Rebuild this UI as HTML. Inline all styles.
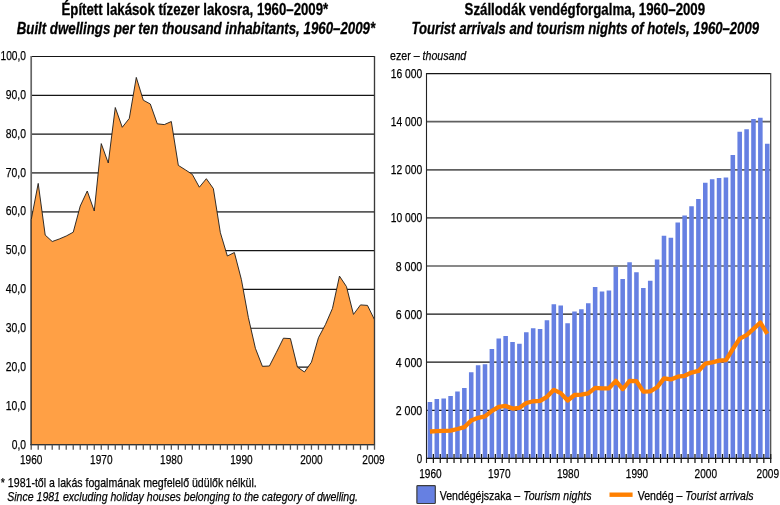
<!DOCTYPE html>
<html lang="hu"><head><meta charset="utf-8"><title>Épített lakások; Szállodák vendégforgalma, 1960–2009</title>
<style>html,body{margin:0;padding:0;background:#fff}body{width:780px;height:505px;overflow:hidden}svg{display:block}text{font-family:"Liberation Sans", sans-serif;fill:#000;stroke:#000;stroke-width:0.25px}.b{stroke-width:0.3px}.b{font-weight:bold}.i{font-style:italic}</style></head><body>
<svg width="780" height="505" viewBox="0 0 780 505">
<rect width="780" height="505" fill="#fff"/>
<line x1="31.2" x2="374.5" y1="56.50" y2="56.50" stroke="#151515" stroke-width="1.2"/>
<line x1="31.2" x2="374.5" y1="95.32" y2="95.32" stroke="#151515" stroke-width="1.2"/>
<line x1="31.2" x2="374.5" y1="134.14" y2="134.14" stroke="#151515" stroke-width="1.2"/>
<line x1="31.2" x2="374.5" y1="172.96" y2="172.96" stroke="#5a5a5a" stroke-width="1.7"/>
<line x1="31.2" x2="374.5" y1="211.78" y2="211.78" stroke="#5a5a5a" stroke-width="1.7"/>
<line x1="31.2" x2="374.5" y1="250.60" y2="250.60" stroke="#151515" stroke-width="1.2"/>
<line x1="31.2" x2="374.5" y1="289.42" y2="289.42" stroke="#151515" stroke-width="1.2"/>
<line x1="31.2" x2="374.5" y1="328.24" y2="328.24" stroke="#151515" stroke-width="1.2"/>
<line x1="31.2" x2="374.5" y1="367.06" y2="367.06" stroke="#151515" stroke-width="1.2"/>
<line x1="31.2" x2="374.5" y1="405.88" y2="405.88" stroke="#151515" stroke-width="1.2"/>
<line x1="31.2" x2="31.2" y1="55.9" y2="445.3" stroke="#666" stroke-width="1.7"/>
<polygon points="31.20,444.7 31.20,219.80 38.21,183.40 45.21,235.10 52.22,241.50 59.22,239.00 66.23,236.00 73.24,232.20 80.24,206.00 87.25,191.00 94.26,211.00 101.26,143.60 108.27,163.00 115.27,107.50 122.28,127.30 129.29,118.40 136.29,77.40 143.30,100.20 150.30,104.00 157.31,123.80 164.32,124.60 171.32,121.50 178.33,165.40 185.33,169.80 192.34,174.40 199.35,187.20 206.35,178.70 213.36,188.60 220.37,232.70 227.37,256.00 234.38,252.50 241.38,279.50 248.39,317.60 255.40,348.30 262.40,366.30 269.41,366.00 276.41,352.30 283.42,338.20 290.43,338.60 297.43,367.10 304.44,372.00 311.44,362.20 318.45,337.70 325.46,324.50 332.46,308.40 339.47,276.10 346.48,286.60 353.48,314.40 360.49,304.90 367.49,305.40 374.50,319.70 374.50,444.7" fill="#FFA045" stroke="#1a1a1a" stroke-width="0.9" stroke-linejoin="miter"/>
<line x1="374.5" x2="374.5" y1="55.9" y2="445.3" stroke="#3a3a3a" stroke-width="1.35"/>
<line x1="30.4" x2="375.0" y1="444.7" y2="444.7" stroke="#333" stroke-width="1.3"/>
<path d="M31.20 444.7v5M38.21 444.7v5M45.21 444.7v5M52.22 444.7v5M59.22 444.7v5M66.23 444.7v5M73.24 444.7v5M80.24 444.7v5M87.25 444.7v5M94.26 444.7v5M101.26 444.7v5M108.27 444.7v5M115.27 444.7v5M122.28 444.7v5M129.29 444.7v5M136.29 444.7v5M143.30 444.7v5M150.30 444.7v5M157.31 444.7v5M164.32 444.7v5M171.32 444.7v5M178.33 444.7v5M185.33 444.7v5M192.34 444.7v5M199.35 444.7v5M206.35 444.7v5M213.36 444.7v5M220.37 444.7v5M227.37 444.7v5M234.38 444.7v5M241.38 444.7v5M248.39 444.7v5M255.40 444.7v5M262.40 444.7v5M269.41 444.7v5M276.41 444.7v5M283.42 444.7v5M290.43 444.7v5M297.43 444.7v5M304.44 444.7v5M311.44 444.7v5M318.45 444.7v5M325.46 444.7v5M332.46 444.7v5M339.47 444.7v5M346.48 444.7v5M353.48 444.7v5M360.49 444.7v5M367.49 444.7v5M374.50 444.7v5" stroke="#555" stroke-width="1.3" fill="none"/>
<text x="0.5" y="59.9" font-size="13.5" text-anchor="start" textLength="25.5" lengthAdjust="spacingAndGlyphs">100,0</text>
<text x="5.8" y="98.7" font-size="13.5" text-anchor="start" textLength="20.2" lengthAdjust="spacingAndGlyphs">90,0</text>
<text x="5.8" y="137.6" font-size="13.5" text-anchor="start" textLength="20.2" lengthAdjust="spacingAndGlyphs">80,0</text>
<text x="5.8" y="176.5" font-size="13.5" text-anchor="start" textLength="20.2" lengthAdjust="spacingAndGlyphs">70,0</text>
<text x="5.8" y="214.8" font-size="13.5" text-anchor="start" textLength="20.2" lengthAdjust="spacingAndGlyphs">60,0</text>
<text x="5.8" y="253.7" font-size="13.5" text-anchor="start" textLength="20.2" lengthAdjust="spacingAndGlyphs">50,0</text>
<text x="5.8" y="292.6" font-size="13.5" text-anchor="start" textLength="20.2" lengthAdjust="spacingAndGlyphs">40,0</text>
<text x="5.8" y="332.1" font-size="13.5" text-anchor="start" textLength="20.2" lengthAdjust="spacingAndGlyphs">30,0</text>
<text x="5.8" y="371.1" font-size="13.5" text-anchor="start" textLength="20.2" lengthAdjust="spacingAndGlyphs">20,0</text>
<text x="5.8" y="409.8" font-size="13.5" text-anchor="start" textLength="20.2" lengthAdjust="spacingAndGlyphs">10,0</text>
<text x="11.7" y="449.0" font-size="13.5" text-anchor="start" textLength="14.3" lengthAdjust="spacingAndGlyphs">0,0</text>
<text x="20.0" y="464.0" font-size="13.5" text-anchor="start" textLength="22.4" lengthAdjust="spacingAndGlyphs">1960</text>
<text x="90.1" y="464.0" font-size="13.5" text-anchor="start" textLength="22.4" lengthAdjust="spacingAndGlyphs">1970</text>
<text x="160.1" y="464.0" font-size="13.5" text-anchor="start" textLength="22.4" lengthAdjust="spacingAndGlyphs">1980</text>
<text x="230.2" y="464.0" font-size="13.5" text-anchor="start" textLength="22.4" lengthAdjust="spacingAndGlyphs">1990</text>
<text x="300.2" y="464.0" font-size="13.5" text-anchor="start" textLength="22.4" lengthAdjust="spacingAndGlyphs">2000</text>
<text x="362.3" y="464.0" font-size="13.5" text-anchor="start" textLength="22.4" lengthAdjust="spacingAndGlyphs">2009</text>
<text x="61.5" y="14.6" font-size="16.4" text-anchor="start" class="b" textLength="266.7" lengthAdjust="spacingAndGlyphs">Épített lakások tízezer lakosra, 1960–2009*</text>
<text x="16.7" y="33.8" font-size="16.4" text-anchor="start" class="b i" textLength="358.4" lengthAdjust="spacingAndGlyphs">Built dwellings per ten thousand inhabitants, 1960–2009*</text>
<text x="0.8" y="487.0" font-size="13.5" text-anchor="start" textLength="255.9" lengthAdjust="spacingAndGlyphs">* 1981-től a lakás fogalmának megfelelő üdülők nélkül.</text>
<text x="7.2" y="500.9" font-size="13.5" text-anchor="start" class="i" textLength="350.8" lengthAdjust="spacingAndGlyphs">Since 1981 excluding holiday houses belonging to the category of dwelling.</text>
<line x1="426.5" x2="770.7" y1="73.60" y2="73.60" stroke="#151515" stroke-width="1.2"/>
<line x1="426.5" x2="770.7" y1="121.70" y2="121.70" stroke="#606060" stroke-width="1.8"/>
<line x1="426.5" x2="770.7" y1="169.80" y2="169.80" stroke="#606060" stroke-width="1.8"/>
<line x1="426.5" x2="770.7" y1="217.90" y2="217.90" stroke="#606060" stroke-width="1.8"/>
<line x1="426.5" x2="770.7" y1="266.00" y2="266.00" stroke="#151515" stroke-width="1.2"/>
<line x1="426.5" x2="770.7" y1="314.10" y2="314.10" stroke="#151515" stroke-width="1.2"/>
<line x1="426.5" x2="770.7" y1="362.20" y2="362.20" stroke="#151515" stroke-width="1.2"/>
<line x1="426.5" x2="770.7" y1="410.30" y2="410.30" stroke="#151515" stroke-width="1.2"/>
<path d="M427.65 458.4V401.99h4.55V458.4zM434.53 458.4V399.02h4.55V458.4zM441.42 458.4V398.42h4.55V458.4zM448.30 458.4V396.05h4.55V458.4zM455.19 458.4V391.50h4.55V458.4zM462.07 458.4V388.12h4.55V458.4zM468.95 458.4V372.28h4.55V458.4zM475.84 458.4V365.33h4.55V458.4zM482.72 458.4V364.16h4.55V458.4zM489.61 458.4V348.92h4.55V458.4zM496.49 458.4V338.40h4.55V458.4zM503.37 458.4V336.05h4.55V458.4zM510.26 458.4V341.99h4.55V458.4zM517.14 458.4V343.77h4.55V458.4zM524.03 458.4V332.27h4.55V458.4zM530.91 458.4V328.31h4.55V458.4zM537.79 458.4V329.10h4.55V458.4zM544.68 458.4V320.19h4.55V458.4zM551.56 458.4V304.14h4.55V458.4zM558.45 458.4V305.45h4.55V458.4zM565.33 458.4V323.35h4.55V458.4zM572.21 458.4V311.42h4.55V458.4zM579.10 458.4V309.17h4.55V458.4zM585.98 458.4V303.30h4.55V458.4zM592.87 458.4V287.05h4.55V458.4zM599.75 458.4V291.44h4.55V458.4zM606.63 458.4V290.41h4.55V458.4zM613.52 458.4V266.64h4.55V458.4zM620.40 458.4V279.12h4.55V458.4zM627.29 458.4V262.28h4.55V458.4zM634.17 458.4V272.20h4.55V458.4zM641.05 458.4V288.04h4.55V458.4zM647.94 458.4V280.70h4.55V458.4zM654.82 458.4V259.40h4.55V458.4zM661.71 458.4V235.85h4.55V458.4zM668.59 458.4V237.84h4.55V458.4zM675.47 458.4V222.39h4.55V458.4zM682.36 458.4V215.49h4.55V458.4zM689.24 458.4V206.14h4.55V458.4zM696.13 458.4V199.02h4.55V458.4zM703.01 458.4V182.78h4.55V458.4zM709.89 458.4V179.21h4.55V458.4zM716.78 458.4V178.04h4.55V458.4zM723.66 458.4V177.44h4.55V458.4zM730.55 458.4V155.01h4.55V458.4zM737.43 458.4V131.70h4.55V458.4zM744.31 458.4V129.30h4.55V458.4zM751.20 458.4V119.00h4.55V458.4zM758.08 458.4V117.80h4.55V458.4zM764.97 458.4V143.80h4.55V458.4z" fill="#6680E2"/>
<line x1="426.5" x2="426.5" y1="73.1" y2="462.9" stroke="#222" stroke-width="1.1"/>
<line x1="770.7" x2="770.7" y1="73.1" y2="458.9" stroke="#444" stroke-width="1.2"/>
<line x1="426.5" x2="771.2" y1="458.4" y2="458.4" stroke="#111" stroke-width="1.3"/>
<path d="M433.38 453.9v9M440.27 453.9v9M447.15 453.9v9M454.04 453.9v9M460.92 453.9v9M467.80 453.9v9M474.69 453.9v9M481.57 453.9v9M488.46 453.9v9M495.34 453.9v9M502.22 453.9v9M509.11 453.9v9M515.99 453.9v9M522.88 453.9v9M529.76 453.9v9M536.64 453.9v9M543.53 453.9v9M550.41 453.9v9M557.30 453.9v9M564.18 453.9v9M571.06 453.9v9M577.95 453.9v9M584.83 453.9v9M591.72 453.9v9M598.60 453.9v9M605.48 453.9v9M612.37 453.9v9M619.25 453.9v9M626.14 453.9v9M633.02 453.9v9M639.90 453.9v9M646.79 453.9v9M653.67 453.9v9M660.56 453.9v9M667.44 453.9v9M674.32 453.9v9M681.21 453.9v9M688.09 453.9v9M694.98 453.9v9M701.86 453.9v9M708.74 453.9v9M715.63 453.9v9M722.51 453.9v9M729.40 453.9v9M736.28 453.9v9M743.16 453.9v9M750.05 453.9v9M756.93 453.9v9M763.82 453.9v9M770.70 453.9v9" stroke="#1a1a1a" stroke-width="1.25" fill="none"/>
<polyline points="429.94,431.51 436.83,431.10 443.71,430.91 450.59,430.60 457.48,428.99 464.36,427.20 471.25,420.51 478.13,417.80 485.01,416.37 491.90,410.86 498.78,406.85 505.67,405.92 512.55,408.60 519.43,407.76 526.32,403.04 533.20,401.27 540.09,400.96 546.97,396.81 553.85,389.82 560.74,393.10 567.62,400.53 574.51,395.02 581.39,394.63 588.27,393.36 595.16,387.85 602.04,388.43 608.93,388.28 615.81,380.86 622.69,389.03 629.58,380.86 636.46,381.17 643.35,391.57 650.23,391.28 657.11,387.25 664.00,378.34 670.88,379.44 677.77,376.66 684.65,375.80 691.53,372.54 698.42,370.94 705.30,363.61 712.19,362.31 719.07,360.68 725.95,360.04 732.84,348.99 739.72,338.64 746.61,335.05 753.49,328.82 760.37,322.59 767.26,333.85" fill="none" stroke="#FF8000" stroke-width="4.3" stroke-linejoin="round" stroke-linecap="butt"/>
<text x="390.7" y="78.1" font-size="13.5" text-anchor="start" textLength="31.5" lengthAdjust="spacingAndGlyphs">16 000</text>
<text x="390.7" y="126.2" font-size="13.5" text-anchor="start" textLength="31.5" lengthAdjust="spacingAndGlyphs">14 000</text>
<text x="390.7" y="174.3" font-size="13.5" text-anchor="start" textLength="31.5" lengthAdjust="spacingAndGlyphs">12 000</text>
<text x="390.7" y="222.4" font-size="13.5" text-anchor="start" textLength="31.5" lengthAdjust="spacingAndGlyphs">10 000</text>
<text x="395.7" y="270.5" font-size="13.5" text-anchor="start" textLength="26.5" lengthAdjust="spacingAndGlyphs">8 000</text>
<text x="395.7" y="318.6" font-size="13.5" text-anchor="start" textLength="26.5" lengthAdjust="spacingAndGlyphs">6 000</text>
<text x="395.7" y="366.7" font-size="13.5" text-anchor="start" textLength="26.5" lengthAdjust="spacingAndGlyphs">4 000</text>
<text x="395.7" y="414.8" font-size="13.5" text-anchor="start" textLength="26.5" lengthAdjust="spacingAndGlyphs">2 000</text>
<text x="416.8" y="462.9" font-size="13.5" text-anchor="start" textLength="5.4" lengthAdjust="spacingAndGlyphs">0</text>
<text x="419.2" y="478.1" font-size="13.5" text-anchor="start" textLength="22.4" lengthAdjust="spacingAndGlyphs">1960</text>
<text x="488.1" y="478.1" font-size="13.5" text-anchor="start" textLength="22.4" lengthAdjust="spacingAndGlyphs">1970</text>
<text x="556.9" y="478.1" font-size="13.5" text-anchor="start" textLength="22.4" lengthAdjust="spacingAndGlyphs">1980</text>
<text x="625.8" y="478.1" font-size="13.5" text-anchor="start" textLength="22.4" lengthAdjust="spacingAndGlyphs">1990</text>
<text x="694.6" y="478.1" font-size="13.5" text-anchor="start" textLength="22.4" lengthAdjust="spacingAndGlyphs">2000</text>
<text x="756.6" y="478.1" font-size="13.5" text-anchor="start" textLength="22.4" lengthAdjust="spacingAndGlyphs">2009</text>
<text x="464.6" y="14.6" font-size="16.4" text-anchor="start" class="b" textLength="240.5" lengthAdjust="spacingAndGlyphs">Szállodák vendégforgalma, 1960–2009</text>
<text x="411.5" y="33.8" font-size="16.4" text-anchor="start" class="b i" textLength="347.5" lengthAdjust="spacingAndGlyphs">Tourist arrivals and tourism nights of hotels, 1960–2009</text>
<text x="390" y="60.0" font-size="13.5" textLength="76.3" lengthAdjust="spacingAndGlyphs">ezer – <tspan class="i">thousand</tspan></text>
<rect x="416.9" y="485.6" width="18.4" height="17.9" rx="0.8" fill="#6680E2" stroke="#3c3c3c" stroke-width="1.2"/>
<text x="439.7" y="499.9" font-size="13.5" textLength="151.8" lengthAdjust="spacingAndGlyphs">Vendégéjszaka – <tspan class="i">Tourism nights</tspan></text>
<line x1="609.5" x2="632.6" y1="494.7" y2="494.7" stroke="#FF8000" stroke-width="4.4"/>
<text x="637.7" y="499.9" font-size="13.5" textLength="115.9" lengthAdjust="spacingAndGlyphs">Vendég – <tspan class="i">Tourist arrivals</tspan></text>
</svg></body></html>
